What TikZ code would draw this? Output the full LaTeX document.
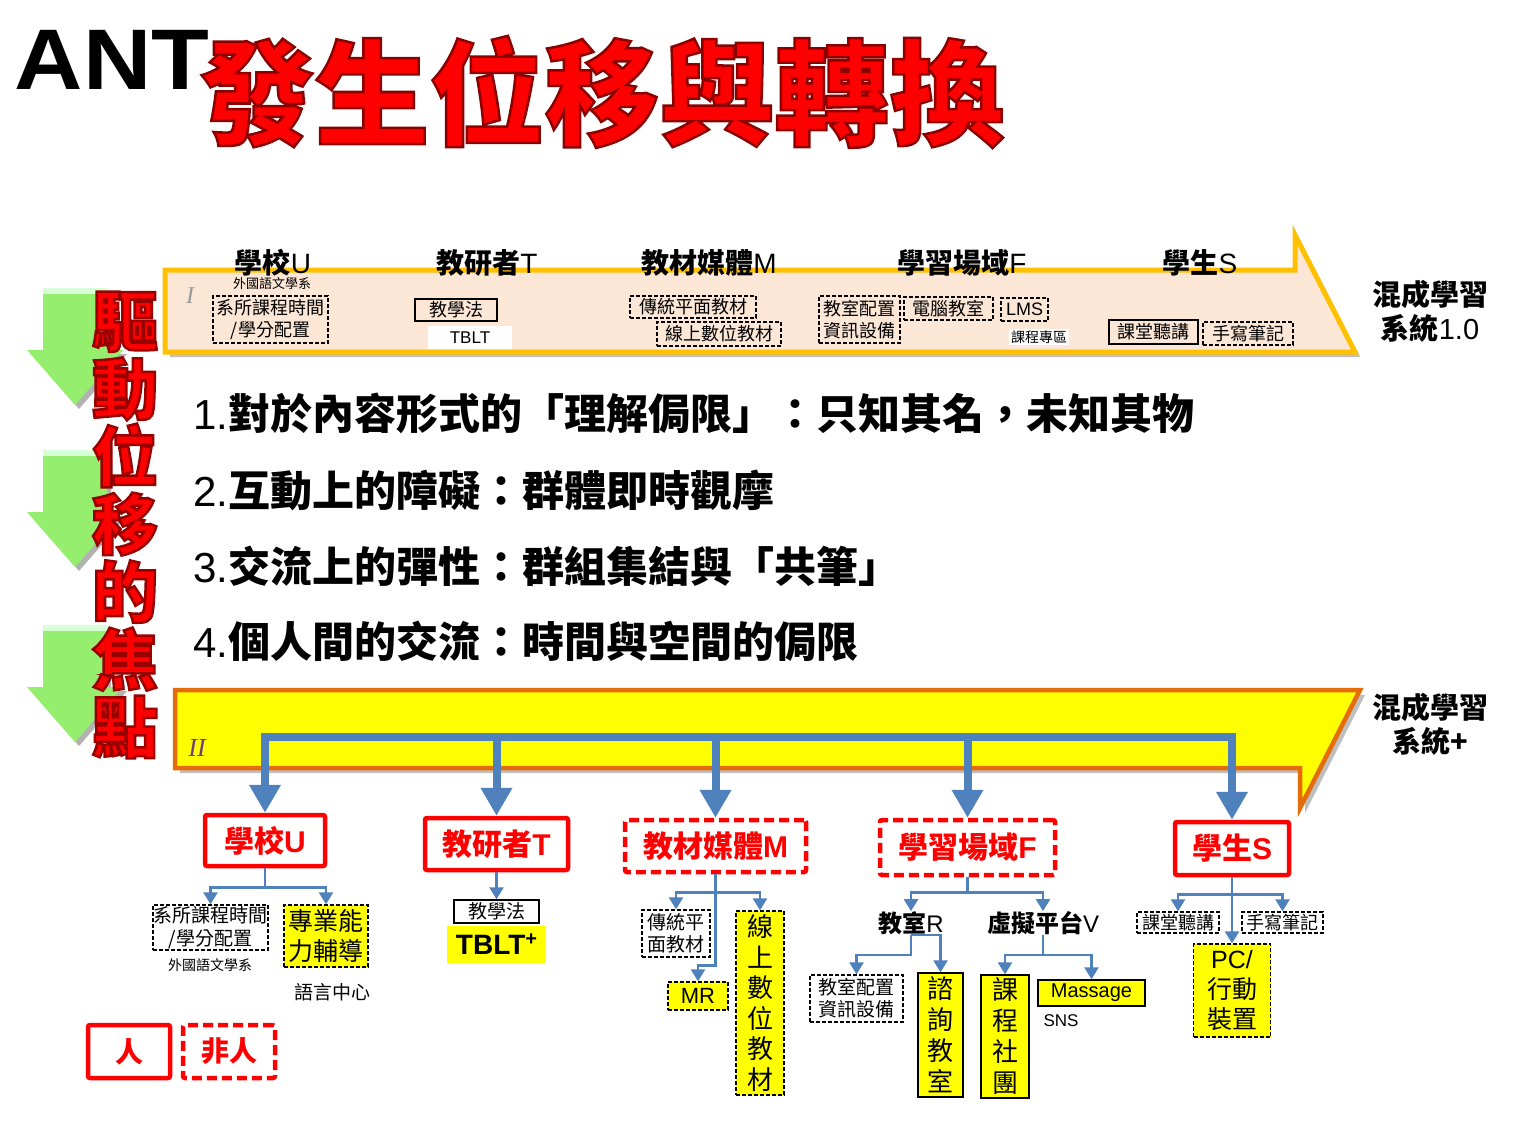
\documentclass[tikz,border=0pt]{standalone}
\usepackage{graphicx}
\usepackage{fontspec}
\setmainfont{Noto Sans CJK TC}
\newfontfamily\arial{Liberation Sans}
\newfontfamily\tnr{Liberation Serif}
\usetikzlibrary{arrows.meta}
\definecolor{rd}{RGB}{255,0,0}
\definecolor{darkrd}{RGB}{150,0,0}
\definecolor{blu}{RGB}{79,129,189}
\definecolor{yel}{RGB}{255,255,0}
\definecolor{peach}{RGB}{252,230,214}
\definecolor{gold}{RGB}{255,192,0}
\definecolor{orng}{RGB}{228,108,10}
\definecolor{grn}{RGB}{150,238,110}
\definecolor{purp}{RGB}{110,60,120}
\newcommand{\fsz}[2]{\fontsize{#1}{#2}\selectfont}
% outlined text: width, stroke colour (r g b), text
\newcommand{\outl}[3]{\special{pdf:literal direct 2 Tr #1 w #2 RG}#3\special{pdf:literal direct 0 Tr}}
\begin{document}
\begin{tikzpicture}[x=1pt,y=-1pt,
  dbx/.style={draw=black,line width=1.4pt,dash pattern=on 4pt off 2pt,inner sep=0pt,align=center,font=\fsz{18}{22}},
  sbx/.style={draw=black,line width=1.4pt,inner sep=0pt,align=center,font=\fsz{18}{22}},
  ydbx/.style={dbx,fill=yel},
  ysbx/.style={sbx,fill=yel},
  rbx/.style={draw=rd,line width=4.5pt,rounded corners=2pt,text=rd,inner sep=0pt,font=\bfseries\fsz{30}{30}},
  rdbx/.style={rbx,dash pattern=on 10pt off 5pt},
  hdr/.style={inner sep=0pt,font=\bfseries\fsz{28}{28}},
  lbl/.style={inner sep=0pt,font=\bfseries\fsz{24}{24}},
  numl/.style={anchor=west,inner sep=0pt,font=\bfseries\fsz{42}{42}},
  barr/.style={draw=blu,line width=8pt,-{Triangle[width=30pt,length=28pt]}},
  sarr/.style={draw=blu,line width=2.5pt,-{Triangle[width=14pt,length=12pt]}},
  sline/.style={draw=blu,line width=2.5pt}
]
\fill[white] (0,0) rectangle (1520,1140);
\useasboundingbox (0,0) rectangle (1520,1140);

% ---------- title ----------
\node[inner sep=0pt,font=\arial\bfseries\fsz{86}{86}] (ant) at (112,60) {\scalebox{1.1}[1]{ANT}};
\node[inner sep=0pt,font=\bfseries\fsz{115}{115},text=rd] (ttl) at (602,92) {\outl{2.5}{0.55 0 0}{發生位移與轉換}};

% ---------- green arrows ----------
\foreach \T in {288,450,625}{
  \fill[black!30,shift={(4,4)}] (43,\T) -- (107,\T) -- (107,\T+62) -- (123,\T+62) -- (75,\T+117) -- (27,\T+62) -- (43,\T+62) -- cycle;
  \fill[grn] (43,\T) -- (107,\T) -- (107,\T+62) -- (123,\T+62) -- (75,\T+117) -- (27,\T+62) -- (43,\T+62) -- cycle;
  \fill[green!15!white] (43,\T) rectangle (107,\T+6);
}

% ---------- vertical red text ----------
\node[inner sep=0pt,align=center,font=\bfseries\fsz{66}{67.7},text=rd] (vt) at (125,525)
  {\outl{2.5}{0.6 0 0}{驅}\\\outl{2.5}{0.6 0 0}{動}\\\outl{2.5}{0.6 0 0}{位}\\\outl{2.5}{0.6 0 0}{移}\\\outl{2.5}{0.6 0 0}{的}\\\outl{2.5}{0.6 0 0}{焦}\\\outl{2.5}{0.6 0 0}{點}};

% ---------- band I ----------
\fill[black!25,shift={(5,5)}] (165,270) -- (1295,270) -- (1295,235) -- (1355,352) -- (165,352) -- cycle;
\filldraw[fill=peach,draw=gold,line width=5pt] (165,270) -- (1295,270) -- (1295,235) -- (1355,352) -- (165,352) -- cycle;
\node[font=\tnr\itshape\fsz{24}{24},text=black!40,inner sep=0pt] (r1) at (190,296) {I};
\node[font=\fsz{13}{13},inner sep=0pt] (a0) at (272,284) {外國語文學系};
\node[dbx,minimum width=115,minimum height=47] (a1) at (270.5,319.5) {系所課程時間\\/學分配置};
\node[sbx,minimum width=82,minimum height=22] (a2) at (456,310) {教學法};
\node[fill=white,inner sep=0pt,minimum width=84,minimum height=23,font=\arial\fsz{17}{17}] (a3) at (470,337.5) {TBLT};
\node[dbx,minimum width=126,minimum height=22] (a4) at (693,307) {傳統平面教材};
\node[dbx,minimum width=124,minimum height=24] (a5) at (719,334) {線上數位教材};
\node[dbx,minimum width=81,minimum height=47] (a6) at (859.5,319.5) {教室配置\\資訊設備};
\node[dbx,minimum width=89,minimum height=23] (a7) at (948.5,308.5) {電腦教室};
\node[dbx,minimum width=47,minimum height=23,font=\arial\fsz{18}{18}] (a8) at (1024.5,309.5) {LMS};
\node[fill=white,font=\fsz{14}{14},inner sep=2pt] (a9) at (1039,337) {課程專區};
\node[sbx,minimum width=89,minimum height=24] (a10) at (1153.5,332) {課堂聽講};
\node[dbx,minimum width=90,minimum height=23] (a11) at (1248,333.5) {手寫筆記};

\node[hdr] (hU) at (273,263) {學校{\arial\mdseries U}};
\node[hdr] (hT) at (487,263) {教研者{\arial\mdseries T}};
\node[hdr] (hM) at (709,263) {教材媒體{\arial\mdseries M}};
\node[hdr] (hF) at (962,263) {學習場域{\arial\mdseries F}};
\node[hdr] (hS) at (1200,263) {學生{\arial\mdseries S}};

\node[align=center,inner sep=0pt,font=\bfseries\fsz{29}{34}] (sys1) at (1430,311) {混成學習\\系統{\arial\mdseries 1.0}};
\node[align=center,inner sep=0pt,font=\bfseries\fsz{29}{34}] (sys2) at (1430,724) {混成學習\\系統+};

% ---------- numbered lines ----------
\node[numl] (n1) at (193,413) {{\arial\mdseries 1.}對於內容形式的「理解侷限」：只知其名，未知其物};
\node[numl] (n2) at (193,490) {{\arial\mdseries 2.}互動上的障礙：群體即時觀摩};
\node[numl] (n3) at (193,566) {{\arial\mdseries 3.}交流上的彈性：群組集結與「共筆」};
\node[numl] (n4) at (193,641) {{\arial\mdseries 4.}個人間的交流：時間與空間的侷限};

% ---------- band II ----------
\fill[black!25,shift={(5,5)}] (175,690) -- (1360,690) -- (1300,808) -- (1300,768) -- (175,768) -- cycle;
\filldraw[fill=yel,draw=orng,line width=4.5pt] (175,690) -- (1360,690) -- (1300,808) -- (1300,768) -- (175,768) -- cycle;
\node[font=\tnr\itshape\fsz{26}{26},text=purp,inner sep=0pt] (r2) at (197,748) {II};
\coordinate (barL) at (262,737);

% ---------- bottom main boxes ----------
\node[rbx,minimum width=120,minimum height=51] (u) at (265,840.5) {學校{\arial\bfseries U}};
\node[rbx,minimum width=143,minimum height=52] (t) at (496.5,844) {教研者{\arial\bfseries T}};
\node[rdbx,minimum width=181,minimum height=52] (m) at (715.5,846) {教材媒體{\arial\bfseries M}};
\node[rdbx,minimum width=175,minimum height=55] (f) at (967.5,847.5) {學習場域{\arial\bfseries F}};
\node[rbx,minimum width=114,minimum height=53] (s) at (1232,848.5) {學生{\arial\bfseries S}};

\draw[blu,line width=8pt,line cap=rect] (u.north |- barL) -- (s.north |- barL);
\draw[barr] (u.north |- barL) -- (u.north);
\draw[barr] (t.north |- barL) -- (t.north);
\draw[barr] (m.north |- barL) -- (m.north);
\draw[barr] (f.north |- barL) -- (f.north);
\draw[barr] (s.north |- barL) -- (s.north);

% ---------- U subtree ----------
\node[dbx,minimum width=115,minimum height=45,font=\fsz{19}{23}] (u1) at (210.5,927.5) {系所課程時間\\/學分配置};
\node[font=\fsz{14}{14},inner sep=0pt] (u1n) at (210,965) {外國語文學系};
\node[ydbx,minimum width=84,minimum height=62,font=\fsz{25}{30}] (u2) at (326,936) {專業能\\力輔導};
\node[font=\fsz{19}{19},inner sep=0pt] (u2n) at (332,992) {語言中心};
\draw[sline] (u.south) -- ++(0,19) coordinate (uj);
\draw[sarr] (uj) -| (u1.north);
\draw[sarr] (uj) -| (u2.north);

% ---------- T subtree ----------
\node[sbx,minimum width=85,minimum height=23,font=\fsz{19}{19}] (t1) at (496.5,911.5) {教學法};
\node[fill=yel,inner sep=0pt,minimum width=99,minimum height=37,font=\arial\bfseries\fsz{28}{28}] (t2) at (496.5,944.5) {TBLT\raisebox{9pt}{\fsz{20}{20}+}};
\draw[sarr] (t.south) -- (t1.north);

% ---------- M subtree ----------
\node[dbx,minimum width=68,minimum height=47,font=\fsz{19}{22}] (m1) at (676,933.5) {傳統平\\面教材};
\node[ydbx,minimum width=60,minimum height=28,font=\arial\fsz{22}{22}] (m2) at (698,996) {MR};
\node[ydbx,minimum width=48,minimum height=184,font=\fsz{26}{30.5}] (m3) at (760,1003) {線\\上\\數\\位\\教\\材};
\draw[sline] (m.south) -- ++(0,18) coordinate (mj);
\draw[sarr] (mj) -| (m1.north);
\draw[sarr] (mj) -| (m3.north);
\draw[sarr] (mj) -- ++(0,73) -| (m2.north);

% ---------- F subtree ----------
\node[lbl] (fR) at (911,923) {教室{\arial\mdseries R}};
\node[lbl] (fV) at (1043,923) {虛擬平台{\arial\mdseries V}};
\node[dbx,minimum width=93,minimum height=47,font=\fsz{19}{22}] (f1) at (856.5,998.5) {教室配置\\資訊設備};
\node[ysbx,minimum width=45,minimum height=124,font=\fsz{26}{31}] (f2) at (940.5,1035) {諮\\詢\\教\\室};
\node[ysbx,minimum width=48,minimum height=123,font=\fsz{26}{31}] (f3) at (1005,1036.5) {課\\程\\社\\團};
\node[ysbx,minimum width=107,minimum height=26,font=\arial\fsz{20}{20}] (f4) at (1091.5,993) {Massage};
\node[font=\arial\fsz{17}{17},inner sep=0pt] (f4n) at (1061,1021) {SNS};
\draw[sline] (f.south) -- ++(0,15) coordinate (fj);
\draw[sarr] (fj) -| (fR.north);
\draw[sarr] (fj) -| (fV.north);
\draw[sarr] (fR.south) -- ++(0,20) -| (f1.north);
\draw[sarr] (fR.south) -| (f2.north);
\draw[sline] (fV.south) -- ++(0,20) coordinate (vj);
\draw[sarr] (vj) -| (f3.north);
\draw[sarr] (vj) -| (f4.north);

% ---------- S subtree ----------
\node[dbx,minimum width=82,minimum height=21,font=\fsz{18}{18}] (s1) at (1178,922.5) {課堂聽講};
\node[dbx,minimum width=81,minimum height=21,font=\fsz{18}{18}] (s2) at (1282.5,922.5) {手寫筆記};
\node[ydbx,minimum width=77,minimum height=93,font=\fsz{25}{30}] (s3) at (1232,990.5) {{\arial PC/}\\行動\\裝置};
\draw[sline] (s.south) -- ++(0,17) coordinate (sj);
\draw[sarr] (sj) -| (s1.north);
\draw[sarr] (sj) -| (s2.north);
\draw[sarr] (sj) -- (s3.north);

% ---------- legend ----------
\node[rbx,minimum width=82,minimum height=53,font=\bfseries\fsz{28}{28}] (lg1) at (129,1051.5) {人};
\node[rdbx,minimum width=92,minimum height=53,font=\bfseries\fsz{28}{28}] (lg2) at (229,1051.5) {非人};
\end{tikzpicture}
\end{document}
